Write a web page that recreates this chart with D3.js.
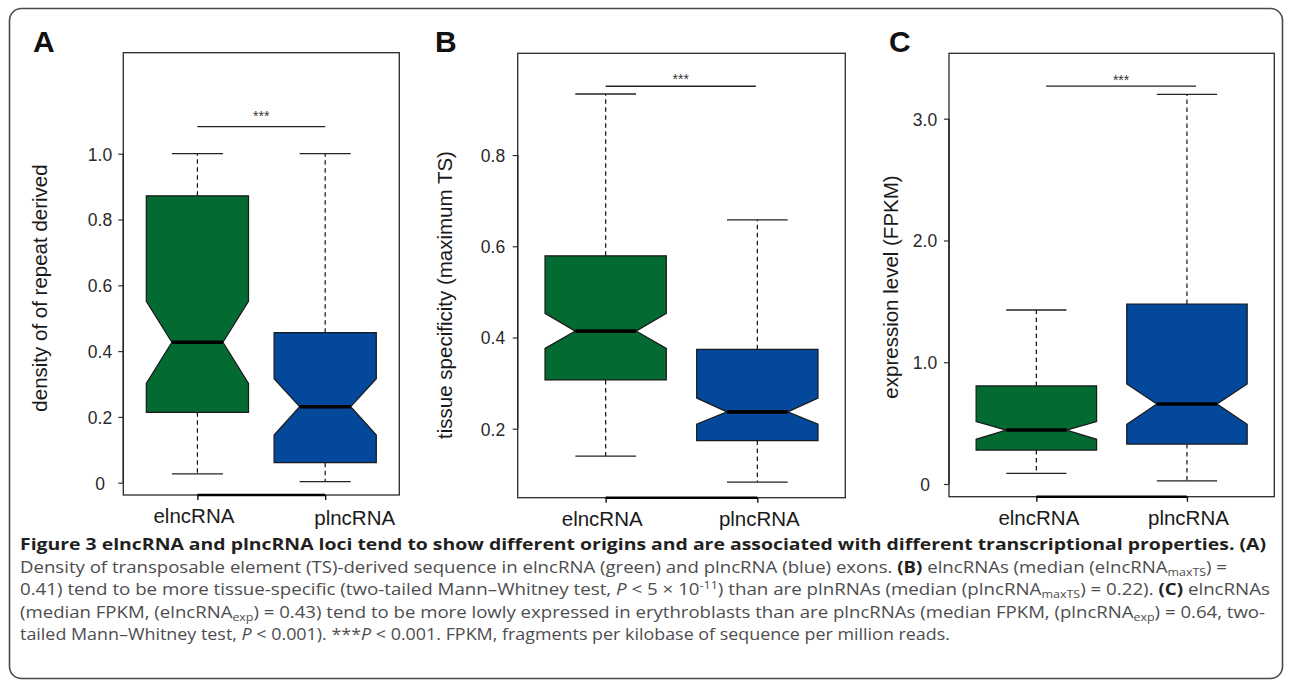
<!DOCTYPE html>
<html>
<head>
<meta charset="utf-8">
<script src="https://cdn.jsdelivr.net/npm/d3@7"></script>
<style>
  html, body { margin: 0; padding: 0; background: #ffffff; }
  svg { display: block; }
</style>
</head>
<body>
<svg id="fig" width="1290" height="681"></svg>
<script>
// ---------------- DATA ----------------
const categories = ["elncRNA", "plncRNA"];

// Panel A: density of repeat-derived sequence
const repeatLower   = [0.027, 0.003];
const repeatQ1      = [0.214, 0.061];
const repeatNotchLo = [0.302, 0.145];
const repeatMedian  = [0.427, 0.231];
const repeatNotchHi = [0.551, 0.316];
const repeatQ3      = [0.872, 0.456];
const repeatUpper   = [1.000, 1.000];
const repeatTicks      = [0, 0.2, 0.4, 0.6, 0.8, 1.0];
const repeatTickLabels = ["0", "0.2", "0.4", "0.6", "0.8", "1.0"];
const repeatSigLevel   = 1.082;
const repeatSigSpan    = [1.0, 2.0];

// Panel B: tissue specificity (maximum TS)
const tsLower   = [0.140, 0.083];
const tsQ1      = [0.307, 0.174];
const tsNotchLo = [0.376, 0.210];
const tsMedian  = [0.414, 0.237];
const tsNotchHi = [0.453, 0.267];
const tsQ3      = [0.579, 0.374];
const tsUpper   = [0.934, 0.658];
const tsTicks      = [0.2, 0.4, 0.6, 0.8];
const tsTickLabels = ["0.2", "0.4", "0.6", "0.8"];
const tsSigLevel   = 0.951;
const tsSigSpan    = [1.0, 1.99];

// Panel C: expression level (FPKM)
const expLower   = [0.088, 0.025];
const expQ1      = [0.279, 0.328];
const expNotchLo = [0.367, 0.490];
const expMedian  = [0.443, 0.657];
const expNotchHi = [0.512, 0.821];
const expQ3      = [0.805, 1.478];
const expUpper   = [1.429, 3.200];
const expTicks      = [0, 1, 2, 3];
const expTickLabels = ["0", "1.0", "2.0", "3.0"];
const expSigLevel   = 3.268;
const expSigSpan    = [1.065, 2.06];

const panelLetters = ["A", "B", "C"];
const yTitles = ["density of of repeat derived", "tissue specificity (maximum TS)", "expression level (FPKM)"];
const sigLabel = "***";

// ---------------- STYLE / LAYOUT ----------------
const fills = ["#036a32", "#03489a"];
const plotFont = "'Liberation Sans', Arial, Helvetica, sans-serif";
const capFont = "'Open Sans', 'Noto Sans', sans-serif";

const panels = [
  { letter: panelLetters[0], title: yTitles[0],
    lower: repeatLower, q1: repeatQ1, nlo: repeatNotchLo, med: repeatMedian, nhi: repeatNotchHi, q3: repeatQ3, upper: repeatUpper,
    ticks: repeatTicks, tickLabels: repeatTickLabels, sig: repeatSigLevel, sigSpan: repeatSigSpan,
    box: { l: 123.3, t: 52.7, r: 399.3, b: 495 }, yDomain: [-0.0374, 1.307],
    letterX: 33, tickLabelX: 100, titleX: 47, titleY: 288, xLabDx: [-4, 29], xLabDy: [0, 2], starDy: -6 },
  { letter: panelLetters[1], title: yTitles[1],
    lower: tsLower, q1: tsQ1, nlo: tsNotchLo, med: tsMedian, nhi: tsNotchHi, q3: tsQ3, upper: tsUpper,
    ticks: tsTicks, tickLabels: tsTickLabels, sig: tsSigLevel, sigSpan: tsSigSpan,
    box: { l: 517.7, t: 53.3, r: 845.3, b: 497.7 }, yDomain: [0.0487, 1.0232],
    letterX: 435, tickLabelX: 493, titleX: 452, titleY: 295, xLabDx: [-4, 1.5], xLabDy: [0, 0], starDy: -2 },
  { letter: panelLetters[2], title: yTitles[2],
    lower: expLower, q1: expQ1, nlo: expNotchLo, med: expMedian, nhi: expNotchHi, q3: expQ3, upper: expUpper,
    ticks: expTicks, tickLabels: expTickLabels, sig: expSigLevel, sigSpan: expSigSpan,
    box: { l: 949, t: 53.3, r: 1274.3, b: 496.7 }, yDomain: [-0.1043, 3.537],
    letterX: 889, tickLabelX: 925, titleX: 898, titleY: 287, xLabDx: [2, 1], xLabDy: [0, 0], starDy: -1.5 }
];

const svg = d3.select("#fig");

// outer rounded frame
svg.append("rect")
  .attr("x", 9.5).attr("y", 8.5).attr("width", 1273).attr("height", 670)
  .attr("rx", 12).attr("ry", 12)
  .attr("fill", "none").attr("stroke", "#4a4a4a").attr("stroke-width", 1.6);

panels.forEach(p => {
  const g = svg.append("g");
  const x = d3.scaleLinear().domain([0.42, 2.58]).range([p.box.l, p.box.r]);
  const y = d3.scaleLinear().domain(p.yDomain).range([p.box.b, p.box.t]);
  const unit = x(1) - x(0);
  const hw = 0.4 * unit, nw = 0.2 * unit, cw = 0.2 * unit;

  // panel letter
  svg.append("text").attr("x", p.letterX).attr("y", 51.7)
    .attr("font-family", plotFont).attr("font-weight", "bold").attr("font-size", 30)
    .attr("fill", "#111").text(p.letter);

  categories.forEach((c, i) => {
    const cx = x(i + 1);
    // dashed whiskers
    g.append("line").attr("x1", cx).attr("x2", cx).attr("y1", y(p.q3[i])).attr("y2", y(p.upper[i]))
      .attr("stroke", "#111").attr("stroke-width", 1.2).attr("stroke-dasharray", "4.5,3.5");
    g.append("line").attr("x1", cx).attr("x2", cx).attr("y1", y(p.q1[i])).attr("y2", y(p.lower[i]))
      .attr("stroke", "#111").attr("stroke-width", 1.2).attr("stroke-dasharray", "4.5,3.5");
    [p.upper[i], p.lower[i]].forEach(v => {
      g.append("line").attr("x1", cx - cw).attr("x2", cx + cw).attr("y1", y(v)).attr("y2", y(v))
        .attr("stroke", "#222").attr("stroke-width", 1.3);
    });
    // notched box
    const pts = [
      [cx - hw, y(p.q3[i])], [cx + hw, y(p.q3[i])], [cx + hw, y(p.nhi[i])], [cx + nw, y(p.med[i])],
      [cx + hw, y(p.nlo[i])], [cx + hw, y(p.q1[i])], [cx - hw, y(p.q1[i])], [cx - hw, y(p.nlo[i])],
      [cx - nw, y(p.med[i])], [cx - hw, y(p.nhi[i])]
    ];
    g.append("path").attr("d", "M" + pts.map(d => d.join(",")).join("L") + "Z")
      .attr("fill", fills[i]).attr("stroke", "#1a1a1a").attr("stroke-width", 1.2)
      .attr("stroke-linejoin", "miter");
    g.append("line").attr("x1", cx - nw).attr("x2", cx + nw).attr("y1", y(p.med[i])).attr("y2", y(p.med[i]))
      .attr("stroke", "#000").attr("stroke-width", 3.6);
  });

  // significance bar
  g.append("line").attr("x1", x(p.sigSpan[0])).attr("x2", x(p.sigSpan[1]))
    .attr("y1", y(p.sig)).attr("y2", y(p.sig)).attr("stroke", "#222").attr("stroke-width", 1.3);
  g.append("text").attr("x", (x(p.sigSpan[0]) + x(p.sigSpan[1])) / 2).attr("y", y(p.sig) + p.starDy)
    .attr("text-anchor", "middle").attr("font-family", plotFont).attr("font-size", 14)
    .attr("fill", "#333").text(sigLabel);

  // plot box
  g.append("rect").attr("x", p.box.l).attr("y", p.box.t)
    .attr("width", p.box.r - p.box.l).attr("height", p.box.b - p.box.t)
    .attr("fill", "none").attr("stroke", "#2a2a2a").attr("stroke-width", 1.3);

  // y axis
  const yAxis = d3.axisLeft(y).tickValues(p.ticks).tickSize(5).tickPadding(8)
    .tickFormat((d, k) => p.tickLabels[k]);
  const ya = g.append("g").attr("transform", `translate(${p.box.l},0)`).call(yAxis);
  ya.select(".domain").remove();
  ya.selectAll(".tick line").attr("stroke", "#333").attr("stroke-width", 1.2);
  ya.selectAll(".tick text").attr("x", p.tickLabelX - p.box.l).attr("text-anchor", "middle")
    .attr("dy", "0.36em").attr("font-family", plotFont).attr("font-size", 17.5).attr("fill", "#2a2a2a");
  g.append("line").attr("x1", p.box.l).attr("x2", p.box.l)
    .attr("y1", y(p.ticks[0])).attr("y2", y(p.ticks[p.ticks.length - 1]))
    .attr("stroke", "#222").attr("stroke-width", 1.4);

  // x axis
  const xAxis = d3.axisBottom(x).tickValues([1, 2]).tickSize(5).tickFormat((d, k) => categories[k]);
  const xa = g.append("g").attr("transform", `translate(0,${p.box.b})`).call(xAxis);
  xa.select(".domain").remove();
  xa.selectAll(".tick line").attr("stroke", "#111").attr("stroke-width", 1.4);
  xa.selectAll(".tick text")
    .attr("dx", (d, k) => p.xLabDx[k])
    .attr("y", (d, k) => 28 + p.xLabDy[k]).attr("dy", 0)
    .attr("font-family", plotFont).attr("font-size", 20.5).attr("fill", "#1a1a1a");
  g.append("line").attr("x1", x(1)).attr("x2", x(2)).attr("y1", p.box.b).attr("y2", p.box.b)
    .attr("stroke", "#000").attr("stroke-width", 2.6);

  // y title
  g.append("text").attr("transform", `translate(${p.titleX},${p.titleY}) rotate(-90)`)
    .attr("text-anchor", "middle").attr("font-family", plotFont).attr("font-size", 20.5)
    .attr("fill", "#1a1a1a").text(p.title);
});

// ---------------- CAPTION ----------------
const captionLines = [
  { y: 550, len: 1246, bold: true, parts: [
    { t: "Figure 3 elncRNA and plncRNA loci tend to show different origins and are associated with different transcriptional properties. (A)" } ] },
  { y: 573, len: 1207, parts: [
    { t: "Density of transposable element (TS)-derived sequence in elncRNA (green) and plncRNA (blue) exons. " },
    { t: "(B)", b: true }, { t: " elncRNAs (median (elncRNA" }, { t: "maxTS", sub: true }, { t: ") =" } ] },
  { y: 595, len: 1250, parts: [
    { t: "0.41) tend to be more tissue-specific (two-tailed Mann\u2013Whitney test, " }, { t: "P", i: true },
    { t: " < 5 \u00d7 10" }, { t: "-11", sup: true }, { t: ") than are plnRNAs (median (plncRNA" }, { t: "maxTS", sub: true },
    { t: ") = 0.22). " }, { t: "(C)", b: true }, { t: " elncRNAs" } ] },
  { y: 618, len: 1245, parts: [
    { t: "(median FPKM, (elncRNA" }, { t: "exp", sub: true },
    { t: ") = 0.43) tend to be more lowly expressed in erythroblasts than are plncRNAs (median FPKM, (plncRNA" },
    { t: "exp", sub: true }, { t: ") = 0.64, two-" } ] },
  { y: 640, len: 930, parts: [
    { t: "tailed Mann\u2013Whitney test, " }, { t: "P", i: true }, { t: " < 0.001). ***" }, { t: "P", i: true },
    { t: " < 0.001. FPKM, fragments per kilobase of sequence per million reads." } ] }
];

captionLines.forEach(line => {
  const t = svg.append("text").attr("x", 20).attr("y", line.y)
    .attr("font-family", capFont).attr("font-size", 16.5)
    .attr("fill", line.bold ? "#231f20" : "#4d4d4f")
    .attr("font-weight", line.bold ? "bold" : "normal")
    .attr("textLength", line.len).attr("lengthAdjust", "spacingAndGlyphs");
  let shift = 0;
  line.parts.forEach(pt => {
    const s = t.append("tspan").text(pt.t);
    let target = 0;
    if (pt.sub) { target = 2.5; s.attr("font-size", 11); }
    if (pt.sup) { target = -6; s.attr("font-size", 11); }
    if (target !== shift) { s.attr("dy", target - shift); shift = target; }
    if (pt.b) s.attr("font-weight", "bold").attr("fill", "#231f20");
    if (pt.i) s.attr("font-style", "italic");
  });
});
</script>
</body>
</html>
